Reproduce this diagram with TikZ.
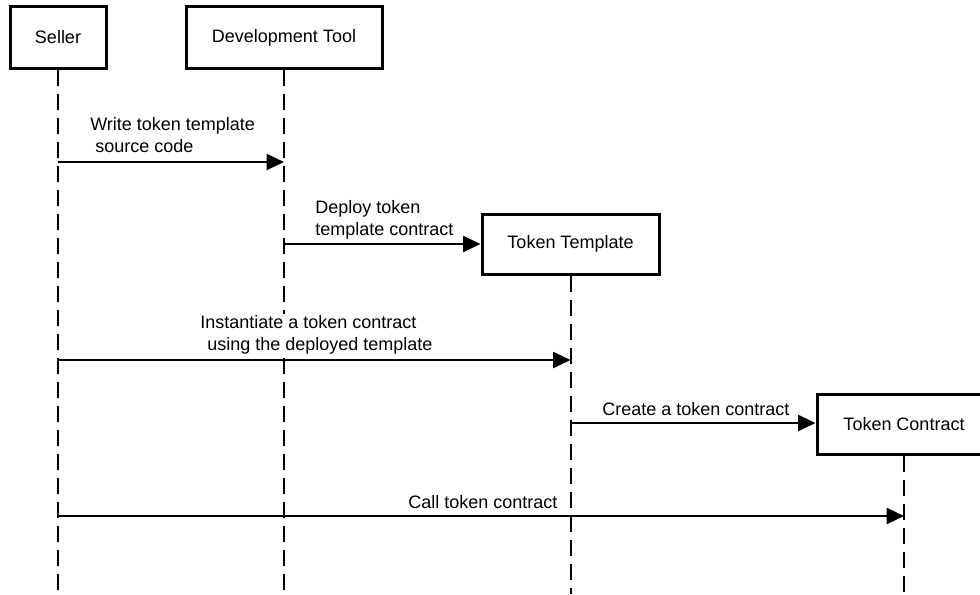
\documentclass[tikz,border=0pt]{standalone}
\usepackage{fontspec}
\setmainfont{Liberation Sans}
\usetikzlibrary{arrows.meta}
\begin{document}
\begin{tikzpicture}[x=0.75pt,y=-0.75pt,
  actor/.style={draw,line width=2.25pt,fill=white,minimum height=45pt,inner sep=0pt,font=\fontsize{13.5}{16}\selectfont},
  lifeline/.style={line width=1.5pt,dash pattern=on 12pt off 6pt},
  msg/.style={line width=1.5pt,-{Triangle[length=13pt,width=12pt]}},
  lbl/.style={anchor=base west,fill=white,inner sep=1.5pt,align=left,font=\fontsize{13.5}{15.9}\selectfont}]
\useasboundingbox (0,0) rectangle (980,594);
% lifelines
\coordinate (sE) at (58,594);
\coordinate (dE) at (284,594);
\coordinate (tE) at (570.5,594);
\coordinate (cE) at (904,594);
\node[actor,minimum width=72pt,minimum height=46.5pt] (seller) at (58,37.5) {Seller};
\node[actor,minimum width=147pt,minimum height=46.5pt] (dev) at (284,37.5) {Development Tool};
\node[actor,minimum width=132.75pt] (tt) at (570.5,244) {Token Template};
\node[actor,minimum width=130.5pt] (tc) at (904,424) {Token Contract};
\draw[lifeline] (seller.south) -- (sE);
\draw[lifeline] (dev.south) -- (dE);
\draw[lifeline] (tt.south) -- (tE);
\draw[lifeline] (tc.south) -- (cE);
% message coordinates
\coordinate (w1) at (58,162);
\coordinate (w2) at (284,162);
\coordinate (d1) at (284,244);
\coordinate (i1) at (58,360);
\coordinate (i2) at (570.5,360);
\coordinate (c1) at (570.5,423);
\coordinate (k1) at (58,516);
\coordinate (k2) at (904,516);
% labels
\node[lbl] (lw) at (88,152) {Write token template\\\hspace*{3.75pt}source code};
\node[lbl] (ld) at (313,235) {Deploy token\\template contract};
\node[lbl] (li) at (198,350) {Instantiate a token contract\\\hspace*{5.25pt}using the deployed template};
\node[lbl] (lc) at (600,415) {Create a token contract};
\node[lbl] (lk) at (406,508) {Call token contract};
% messages
\draw[msg] (w1) -- (w2);
\draw[msg] (d1) -- (tt.west);
\draw[msg] (i1) -- (i2);
\draw[msg] (c1) -- (c1 -| tc.west);
\draw[msg] (k1) -- (k2);
\end{tikzpicture}
\end{document}
